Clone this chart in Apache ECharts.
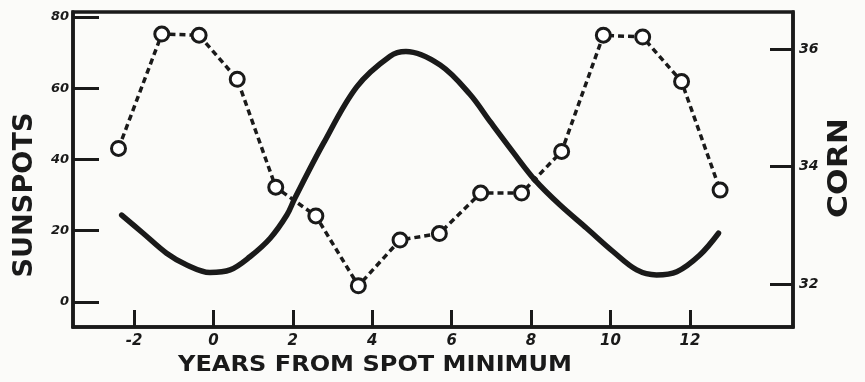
<!DOCTYPE html>
<html><head><meta charset="utf-8">
<script src="https://cdn.jsdelivr.net/npm/echarts@6/dist/echarts.min.js"></script>
<style>html,body{margin:0;padding:0;background:#fbfbf9}#c{width:865px;height:382px}</style>
</head><body><div id="c"></div>
<script>
// Corn (dashed line with circles), right axis
const cornYears  = [-2.39, -1.30, -0.36, 0.60, 1.57, 2.58, 3.65, 4.70, 5.69, 6.73, 7.76, 8.77, 9.82, 10.81, 11.79, 12.76];
const cornValues = [34.31, 36.26, 36.24, 35.49, 33.65, 33.16, 31.97, 32.75, 32.86, 33.55, 33.55, 34.26, 36.24, 36.21, 35.45, 33.60];
// Sunspots (solid curve), left axis
const sunYears  = [-2.31, -1.77, -1.18, -0.67, -0.09, 0.42, 0.92, 1.43, 1.85, 2.05, 2.77, 3.61, 4.45, 4.85, 5.71, 6.46, 6.97, 7.55, 8.10, 8.73, 9.40, 10.07, 10.66, 11.16, 11.67, 12.25, 12.72];
const sunValues = [24.4, 19.3, 13.7, 10.4, 8.3, 9.0, 12.7, 17.9, 24.4, 29.1, 44.5, 60.4, 69.0, 70.3, 66.5, 58.3, 50.6, 42.0, 34.2, 27.2, 20.7, 14.1, 9.0, 7.6, 8.5, 13.2, 19.3];
// Tick values and labels
const xTicks = [-2, 0, 2, 4, 6, 8, 10, 12];
const xTickLabels = ['-2', '0', '2', '4', '6', '8', '10', '12'];
const sunTicks = [0, 20, 40, 60, 80];
const cornTicks = [32, 34, 36];
const xTitle = 'YEARS FROM SPOT MINIMUM';
const leftTitle = 'SUNSPOTS';
const rightTitle = 'CORN';

const INK = '#1a1a1a';
const cv = document.createElement('canvas').getContext('2d');
function fitScale(text, font, target) {
  cv.font = font;
  return target / cv.measureText(text).width;
}
const fTitleX = 'bold 22px "DejaVu Sans"';
const fTitleY = 'bold 27px "DejaVu Sans"';

const chart = echarts.init(document.getElementById('c'), null, {renderer: 'canvas'});
const labelFont = {fontStyle: 'italic', fontWeight: 'bold', fontFamily: '"DejaVu Sans"', color: INK};

chart.setOption({
  animation: false,
  backgroundColor: '#fbfbf9',
  grid: {left: 73, right: 72, top: 12, bottom: 55, show: true, borderColor: INK, borderWidth: 3.5, backgroundColor: 'transparent'},
  xAxis: {
    type: 'value', min: -3.536, max: 14.596,
    axisLine: {show: true, onZero: false, lineStyle: {color: INK, width: 3.5}},
    axisTick: {show: true, inside: true, length: 17, lineStyle: {color: INK, width: 3}, customValues: xTicks},
    axisLabel: Object.assign({customValues: xTicks, margin: 7, fontSize: 15,
      formatter: v => xTickLabels[xTicks.indexOf(v)]}, labelFont),
    splitLine: {show: false}
  },
  yAxis: [
    {
      type: 'value', position: 'left', min: -7.02, max: 81.4,
      axisLine: {show: true, onZero: false, lineStyle: {color: INK, width: 3.5}},
      axisTick: {show: true, inside: true, length: 26, lineStyle: {color: INK, width: 3}, customValues: sunTicks},
      axisLabel: Object.assign({customValues: sunTicks, margin: 4, fontSize: 13}, labelFont),
      splitLine: {show: false}
    },
    {
      type: 'value', position: 'right', min: 31.267, max: 36.636,
      axisLine: {show: true, onZero: false, lineStyle: {color: INK, width: 3.5}},
      axisTick: {show: true, inside: true, length: 23, lineStyle: {color: INK, width: 3}, customValues: cornTicks},
      axisLabel: Object.assign({customValues: cornTicks, margin: 6, fontSize: 14}, labelFont),
      splitLine: {show: false}
    }
  ],
  graphic: [
    {type: 'text', x: 375, y: 365, scaleX: fitScale(xTitle, fTitleX, 394),
     style: {text: xTitle, font: fTitleX, fill: INK, textAlign: 'center', textVerticalAlign: 'middle'}},
    {type: 'text', x: 25, y: 195, rotation: Math.PI / 2, scaleX: fitScale(leftTitle, fTitleY, 165),
     style: {text: leftTitle, font: fTitleY, fill: INK, textAlign: 'center', textVerticalAlign: 'middle'}},
    {type: 'text', x: 840, y: 168, rotation: Math.PI / 2, scaleX: fitScale(rightTitle, fTitleY, 100),
     style: {text: rightTitle, font: fTitleY, fill: INK, textAlign: 'center', textVerticalAlign: 'middle'}}
  ],
  series: [
    {
      name: 'Sunspots', type: 'line', yAxisIndex: 0, z: 2,
      data: sunYears.map((x, i) => [x, sunValues[i]]),
      showSymbol: false, smooth: 0.35,
      lineStyle: {color: INK, width: 5.5, cap: 'round'}
    },
    {
      name: 'Corn', type: 'line', yAxisIndex: 1, z: 3,
      data: cornYears.map((x, i) => [x, cornValues[i]]),
      symbol: 'circle', symbolSize: 14,
      itemStyle: {color: '#ffffff', borderColor: INK, borderWidth: 3},
      lineStyle: {color: INK, width: 3.5, type: [6, 4]}
    }
  ]
});
</script>
</body></html>
